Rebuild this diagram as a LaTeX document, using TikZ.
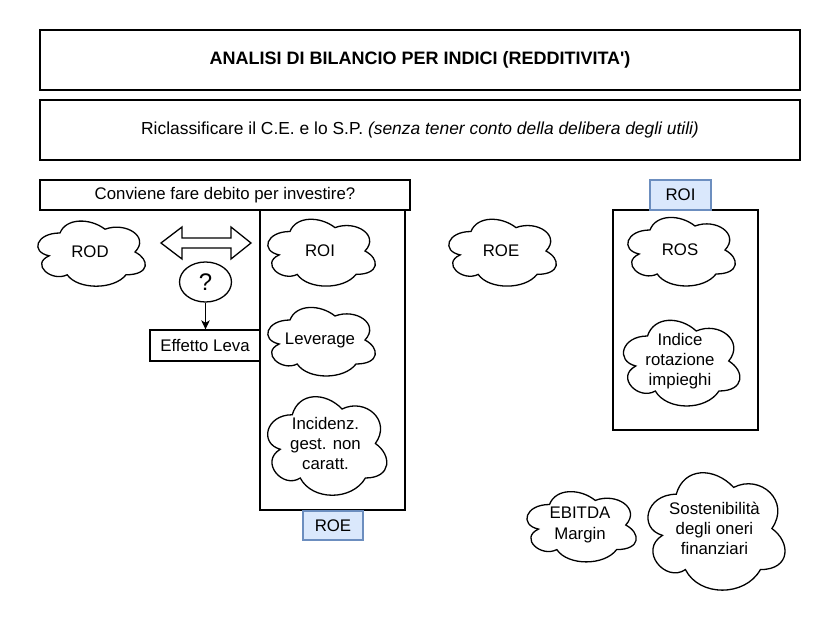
\documentclass[tikz,border=0pt]{standalone}
\usepackage{fontspec}
\setmainfont{Liberation Sans}[Ligatures=TeXOff]
\usetikzlibrary{arrows.meta,shapes.geometric}
\definecolor{blueFill}{HTML}{DAE8FC}
\definecolor{blueLine}{HTML}{6C8EBF}
\tikzset{
  base/.style={font=\fontsize{16.8}{20.2}\selectfont, text=black},
  box/.style={base, draw, line width=1.3pt, fill=white, inner sep=0pt, align=center},
  lbl/.style={box, fill=blueFill, draw=blueLine},
  cloudline/.style={draw, line width=1.3pt, fill=white},
  conn/.style={line width=1.3pt, -{Stealth[length=9pt,width=8.5pt,inset=2.5pt]}},
}
\newcommand{\mycloud}[6]{%
  \begin{scope}[shift={(#2,#3)}, x=#4pt, y=-#5pt]
    \path[cloudline] (0.25,0.25) .. controls (0.05,0.25) and (0,0.5) .. (0.16,0.55)
      .. controls (0,0.66) and (0.18,0.9) .. (0.31,0.8)
      .. controls (0.4,1) and (0.7,1) .. (0.8,0.8)
      .. controls (1,0.8) and (1,0.6) .. (0.875,0.5)
      .. controls (1,0.3) and (0.8,0.1) .. (0.625,0.2)
      .. controls (0.5,0.05) and (0.3,0.05) .. (0.25,0.25) -- cycle;
  \end{scope}
  \node[base, align=center] (#1) at ({#2+#4/2},{#3+#5/2}) {#6};
}
\begin{document}
\begin{tikzpicture}[x=1pt,y=-1pt]
\fill[white] (0,0) rectangle (831,631);
\useasboundingbox (0,0) rectangle (831,631);

% header boxes
\node[box, minimum width=760pt, minimum height=60pt, font=\fontsize{18}{21}\selectfont\bfseries] (title) at (420,60) {ANALISI DI BILANCIO PER INDICI (REDDITIVITA')};
\node[box, minimum width=760pt, minimum height=60pt, font=\fontsize{17.4}{21}\selectfont] (ricl) at (420,130) {Riclassificare il C.E. e lo S.P. \textit{(senza tener conto della delibera degli utili)}};

% ROE group
\node[box, minimum width=145pt, minimum height=300pt] (roegroup) at (332.5,360) {};
\node[box, minimum width=370pt, minimum height=30pt] (conv) at (225,195) {Conviene fare debito per investire?};
\node[lbl, minimum width=60pt, minimum height=29pt] (roelbl) at (333,525.5) {ROE};

% ROI group
\node[box, minimum width=145pt, minimum height=220pt] (roigroup) at (685.5,320) {};
\node[lbl, minimum width=61pt, minimum height=30pt] (roilbl) at (680.5,195) {ROI};

% clouds
\mycloud{rod}{30}{214}{120}{76}{ROD}
\mycloud{roi}{260}{212}{120}{78}{ROI}
\mycloud{roe}{441}{212}{120}{78}{ROE}
\mycloud{ros}{620}{210}{120}{80}{ROS}
\mycloud{lev}{260}{300}{120}{80}{Leverage}
\mycloud{inc}{259}{386}{133}{115}{Incidenz.\\gest. non\\caratt.}
\mycloud{ind}{615}{311}{130}{100}{Indice\\rotazione\\impieghi}
\mycloud{ebitda}{519}{484}{122}{82}{EBITDA\\Margin}
\mycloud{sost}{638}{460}{153}{137}{Sostenibilità\\degli oneri\\finanziari}

% double arrow
\coordinate (darr) at (206,243);
\draw[line width=1.3pt, fill=white] (161,243) -- (182,227) -- (182,238) -- (231,238) -- (231,227)
  -- (251,243) -- (231,259) -- (231,248) -- (182,248) -- (182,259) -- cycle;

% question and effetto leva
\node[base, draw, line width=1.3pt, fill=white, ellipse, inner sep=0pt, minimum width=52pt, minimum height=40pt, font=\fontsize{24}{28}\selectfont] (q) at (205.5,282) {?};
\node[box, minimum width=110pt, minimum height=31pt] (leva) at (205,345.5) {Effetto Leva};
\draw[conn] (q.south) -- (q.south |- leva.north);
\end{tikzpicture}
\end{document}
